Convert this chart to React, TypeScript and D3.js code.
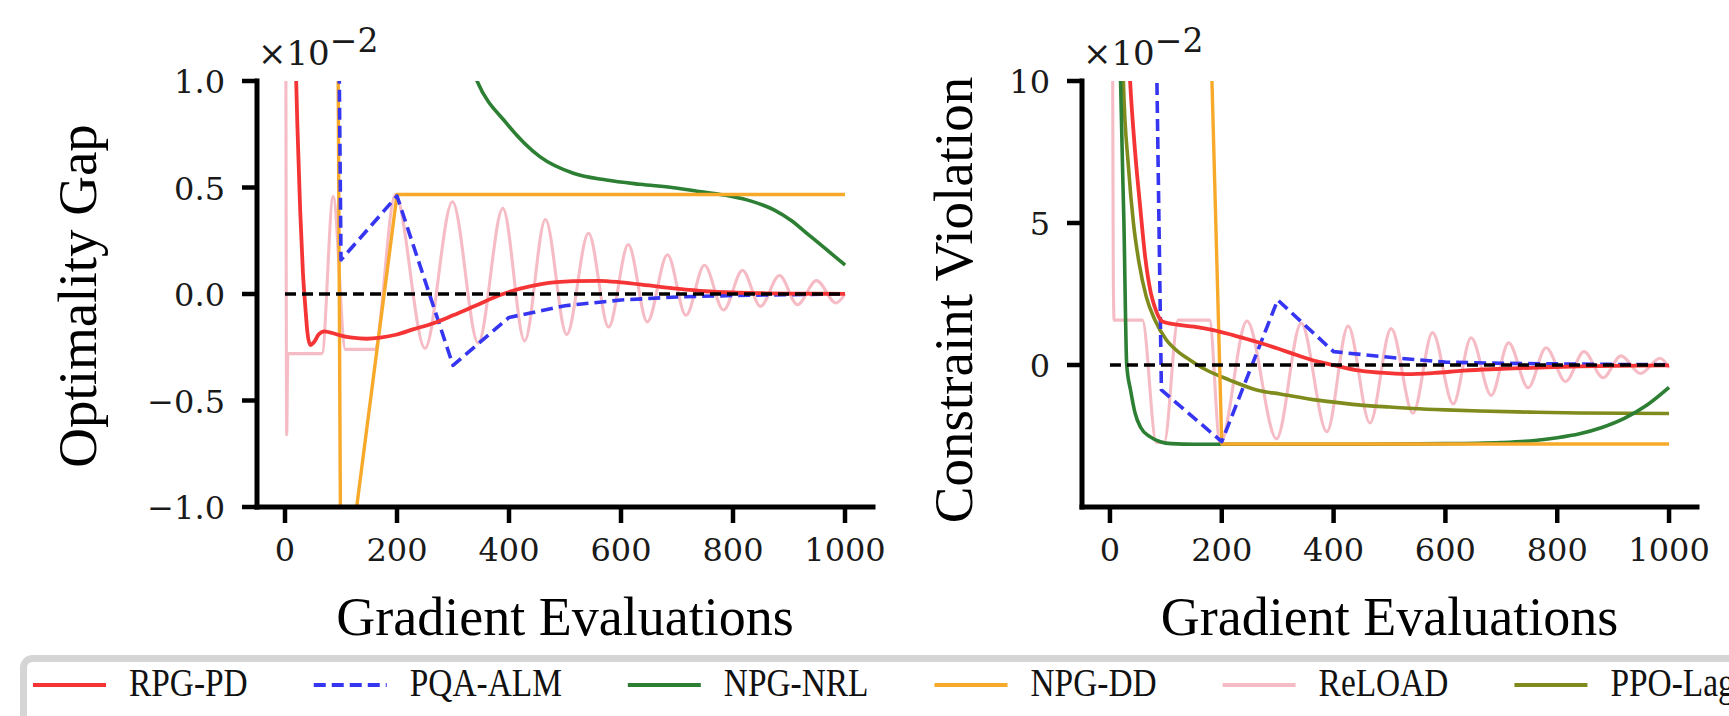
import React, { useEffect, useRef } from 'react';
import * as d3 from 'd3';

type Pt = [number, number];

// ---------- tick labels ----------
const xTicks = [0, 200, 400, 600, 800, 1000];
const xTickLabels = ['0', '200', '400', '600', '800', '1000'];
const gapTicks = [-1.0, -0.5, 0.0, 0.5, 1.0];
const gapTickLabels = ['\u22121.0', '\u22120.5', '0.0', '0.5', '1.0'];
const violTicks = [0, 5, 10];
const violTickLabels = ['0', '5', '10'];

const seriesNames = ['RPG-PD', 'PQA-ALM', 'NPG-NRL', 'NPG-DD', 'ReLOAD', 'PPO-Lag'];

// ---------- Optimality gap (x 10^-2) ----------
const gapRPGPD: Pt[] = [
  [0, 3], [10, 2], [18, 1.2], [22, 0.8], [27, 0.4], [32, 0.1], [36, -0.05], [40, -0.18], [45, -0.24],
  [52, -0.225], [60, -0.19], [70, -0.175], [80, -0.18], [100, -0.195], [120, -0.205], [146, -0.21],
  [170, -0.205], [200, -0.19], [230, -0.165], [265, -0.137], [300, -0.1], [340, -0.055], [384, -0.005],
  [420, 0.025], [460, 0.048], [515, 0.06], [560, 0.062], [600, 0.055], [650, 0.04], [700, 0.025],
  [750, 0.013], [800, 0.007], [850, 0.004], [900, 0.002], [1000, 0.001],
];
const gapPQAALM: Pt[] = [
  [0, 28], [100, 0.16], [200, 0.46], [300, -0.335], [400, -0.11], [500, -0.055], [600, -0.028],
  [700, -0.014], [800, -0.007], [900, -0.003], [1000, 0],
];
const gapNPGNRL: Pt[] = [
  [200, 3], [260, 1.8], [300, 1.35], [343, 1.0], [396, 0.8], [455, 0.645], [515, 0.567], [574, 0.535],
  [634, 0.515], [694, 0.499], [744, 0.48], [794, 0.46], [834, 0.435], [874, 0.394], [904, 0.345],
  [934, 0.28], [964, 0.215], [1000, 0.136],
];
const gapNPGDD: Pt[] = [[0, 50], [100, -1.57], [200, 0.467], [1000, 0.467]];
const gapReLOAD: Pt[] = [
  [0, 4], [1.5, 1.2], [3, -0.66], [5, -0.28], [66, -0.28], [86, 0.457], [108, -0.26], [160, -0.26],
  [197, 0.467], [250, -0.255], [299, 0.433], [345, -0.23], [389, 0.402], [428, -0.22], [465, 0.35],
  [503, -0.19], [542, 0.285], [578, -0.155], [613, 0.232], [647, -0.131], [683, 0.184], [716, -0.1],
  [749, 0.135], [783, -0.075], [817, 0.111], [849, -0.058], [883, 0.087], [915, -0.05], [949, 0.063],
  [984, -0.042], [1000, 0.0],
];

// ---------- Constraint violation (x 10^-2) ----------
const violRPGPD: Pt[] = [
  [0, 40], [20, 18], [36, 10], [45, 7.5], [54, 5.58], [63, 3.8], [73, 2.55], [80, 2.05], [87, 1.7],
  [95, 1.52], [120, 1.42], [150, 1.35], [185, 1.23], [220, 1.05], [262, 0.82], [300, 0.58], [334, 0.35],
  [370, 0.13], [399, 0.0], [440, -0.18], [483, -0.27], [530, -0.32], [580, -0.28], [632, -0.2],
  [680, -0.15], [721, -0.12], [780, -0.08], [840, -0.05], [900, -0.03], [1000, -0.01],
];
const violPQAALM: Pt[] = [
  [0, 124], [92, -0.88], [200, -2.7], [300, 2.29], [400, 0.47], [500, 0.27], [600, 0.1], [700, 0.06],
  [800, 0.04], [900, 0.02], [1000, 0.01],
];
const violNPGNRL: Pt[] = [
  [0, 60], [10, 25], [19, 10], [25, 5], [30, 0], [37, -0.9], [45, -1.7], [55, -2.2], [72, -2.53],
  [90, -2.7], [110, -2.77], [150, -2.79], [400, -2.79], [600, -2.77], [700, -2.73], [760, -2.66],
  [800, -2.56], [840, -2.42], [880, -2.2], [920, -1.88], [960, -1.42], [1000, -0.79],
];
const violNPGDD: Pt[] = [[0, 150], [100, 70], [200, -2.78], [1000, -2.78]];
const violReLOAD: Pt[] = [
  [0, 40], [6, 3], [7.5, 1.58], [58, 1.58], [83, -2.73], [97, -2.73], [122, 1.58], [178, 1.58],
  [197, -2.78], [245, 1.55], [298, -2.6], [342, 1.47], [388, -2.35], [426, 1.37], [465, -2.04],
  [503, 1.28], [542, -1.7], [577, 1.14], [614, -1.37], [646, 0.96], [682, -1.07], [713, 0.78],
  [748, -0.8], [780, 0.61], [815, -0.58], [848, 0.47], [882, -0.45], [914, 0.32], [949, -0.3],
  [984, 0.24], [1000, -0.1],
];
const violPPOLag: Pt[] = [
  [0, 80], [12, 25], [24, 10], [33, 7], [42, 5], [52, 3.6], [65, 2.4], [80, 1.6], [101, 0.88],
  [120, 0.5], [143, 0.18], [170, -0.15], [214, -0.53], [266, -0.9], [304, -1.02], [363, -1.22],
  [423, -1.36], [460, -1.43], [500, -1.48], [542, -1.53], [600, -1.58], [661, -1.62], [750, -1.66],
  [840, -1.69], [1000, -1.71],
];

const zeroLine: Pt[] = [[0, 0], [1000, 0]];

// ---------- styles ----------
const STYLE: Record<string, { color: string; width: number; dash?: string; smooth: boolean }> = {
  'RPG-PD': { color: '#f53535', width: 3.8, smooth: true },
  'PQA-ALM': { color: '#3636f2', width: 3.6, dash: '12,6', smooth: false },
  'NPG-NRL': { color: '#2c7f33', width: 3.6, smooth: true },
  'NPG-DD': { color: '#f7a92a', width: 3.4, smooth: false },
  'ReLOAD': { color: '#f6bcc6', width: 3.1, smooth: true },
  'PPO-Lag': { color: '#7f8b1c', width: 3.6, smooth: true },
};
const DRAW_ORDER = ['ReLOAD', 'PPO-Lag', 'NPG-NRL', 'NPG-DD', 'PQA-ALM', 'RPG-PD'];

const W = 1729;
const H = 716;
const TOP = 81;
const BOTTOM = 507;
const X_DOMAIN = [-50, 1050];
const TICK_FONT = '"DejaVu Serif", serif';
const LABEL_FONT = '"Liberation Serif", "Times New Roman", serif';

interface Panel {
  id: string;
  left: number;
  right: number;
  yDomain: [number, number];
  yTicks: number[];
  yTickLabels: string[];
  ylabel: string;
  ylabelX: number;
  ylabelY: number;
  series: Record<string, Pt[]>;
}

function drawPanel(svg: d3.Selection<SVGSVGElement, unknown, null, undefined>, p: Panel) {
  const x = d3.scaleLinear().domain(X_DOMAIN).range([p.left, p.right]);
  const y = d3.scaleLinear().domain(p.yDomain).range([BOTTOM, TOP]);
  const clipId = 'clip-' + p.id;
  svg.append('defs').append('clipPath').attr('id', clipId)
    .append('rect').attr('x', p.left).attr('y', TOP).attr('width', p.right - p.left).attr('height', BOTTOM - TOP);

  const g = svg.append('g');
  const plot = g.append('g').attr('clip-path', `url(#${clipId})`);
  for (const name of DRAW_ORDER) {
    const data = p.series[name];
    if (!data) continue;
    const st = STYLE[name];
    const line = d3.line<Pt>().x(d => x(d[0])).y(d => y(d[1]))
      .curve(st.smooth ? d3.curveMonotoneX : d3.curveLinear);
    plot.append('path').attr('d', line(data) as string)
      .attr('fill', 'none').attr('stroke', st.color).attr('stroke-width', st.width)
      .attr('stroke-dasharray', st.dash ?? null).attr('stroke-linejoin', 'round');
  }
  const zl = d3.line<Pt>().x(d => x(d[0])).y(d => y(d[1]));
  plot.append('path').attr('d', zl(zeroLine) as string).attr('fill', 'none')
    .attr('stroke', '#000').attr('stroke-width', 3.4).attr('stroke-dasharray', '11,6');

  // spines
  g.append('line').attr('x1', p.left).attr('x2', p.left).attr('y1', TOP).attr('y2', BOTTOM)
    .attr('stroke', '#000').attr('stroke-width', 5).attr('stroke-linecap', 'square');
  g.append('line').attr('x1', p.left).attr('x2', p.right).attr('y1', BOTTOM).attr('y2', BOTTOM)
    .attr('stroke', '#000').attr('stroke-width', 5).attr('stroke-linecap', 'square');

  // x ticks
  xTicks.forEach((v, i) => {
    g.append('line').attr('x1', x(v)).attr('x2', x(v)).attr('y1', BOTTOM).attr('y2', BOTTOM + 16)
      .attr('stroke', '#000').attr('stroke-width', 4.5);
    g.append('text').attr('x', x(v)).attr('y', 561).attr('text-anchor', 'middle')
      .attr('font-family', TICK_FONT).attr('font-size', 32).attr('fill', '#1a1a1a').text(xTickLabels[i]);
  });
  // y ticks
  p.yTicks.forEach((v, i) => {
    g.append('line').attr('x1', p.left - 15).attr('x2', p.left).attr('y1', y(v)).attr('y2', y(v))
      .attr('stroke', '#000').attr('stroke-width', 4.5);
    g.append('text').attr('x', p.left - 32).attr('y', y(v) + 12).attr('text-anchor', 'end')
      .attr('font-family', TICK_FONT).attr('font-size', 32).attr('fill', '#1a1a1a').text(p.yTickLabels[i]);
  });

  // offset text
  const off = g.append('text').attr('x', p.left + 1).attr('y', 65)
    .attr('font-family', TICK_FONT).attr('font-size', 34).attr('fill', '#1a1a1a');
  off.append('tspan').text('\u00d710');
  off.append('tspan').attr('dy', -13).attr('font-size', 33).text('\u22122');

  // axis labels
  g.append('text').attr('transform', `translate(${p.ylabelX},${p.ylabelY}) rotate(-90)`)
    .attr('text-anchor', 'middle').attr('font-family', LABEL_FONT).attr('font-size', 55)
    .attr('fill', '#000').text(p.ylabel);
  g.append('text').attr('x', (p.left + p.right) / 2).attr('y', 635).attr('text-anchor', 'middle')
    .attr('font-family', LABEL_FONT).attr('font-size', 54).attr('fill', '#000').text('Gradient Evaluations');
}

function drawLegend(svg: d3.Selection<SVGSVGElement, unknown, null, undefined>) {
  const lg = svg.append('g');
  lg.append('rect').attr('x', 23.5).attr('y', 658.5).attr('width', 1900).attr('height', 200)
    .attr('rx', 9).attr('fill', '#fff').attr('stroke', '#d5d5d5').attr('stroke-width', 7);
  let cx = 33;
  const sx = 0.835;
  seriesNames.forEach(name => {
    const st = STYLE[name];
    lg.append('line').attr('x1', cx).attr('x2', cx + 73).attr('y1', 685).attr('y2', 685)
      .attr('stroke', st.color).attr('stroke-width', 4.2).attr('stroke-dasharray', st.dash ?? null);
    const t = lg.append('text').attr('transform', `translate(${cx + 96},696) scale(${sx},1)`)
      .attr('font-family', LABEL_FONT).attr('font-size', 40).attr('fill', '#111').text(name);
    const w = (t.node() as SVGTextElement).getComputedTextLength() * sx;
    cx = cx + 96 + w + 66;
  });
}

export default function App() {
  const ref = useRef<SVGSVGElement>(null);
  useEffect(() => {
    if (!ref.current) return;
    const svg = d3.select(ref.current);
    svg.selectAll('*').remove();
    drawPanel(svg, {
      id: 'gap', left: 257, right: 873, yDomain: [-1, 1], yTicks: gapTicks, yTickLabels: gapTickLabels,
      ylabel: 'Optimality Gap', ylabelX: 96, ylabelY: 296,
      series: {
        'RPG-PD': gapRPGPD, 'PQA-ALM': gapPQAALM, 'NPG-NRL': gapNPGNRL, 'NPG-DD': gapNPGDD, 'ReLOAD': gapReLOAD,
      },
    });
    drawPanel(svg, {
      id: 'viol', left: 1082, right: 1697, yDomain: [-5, 10], yTicks: violTicks, yTickLabels: violTickLabels,
      ylabel: 'Constraint Violation', ylabelX: 972, ylabelY: 300,
      series: {
        'RPG-PD': violRPGPD, 'PQA-ALM': violPQAALM, 'NPG-NRL': violNPGNRL, 'NPG-DD': violNPGDD,
        'ReLOAD': violReLOAD, 'PPO-Lag': violPPOLag,
      },
    });
    drawLegend(svg);
  }, []);
  return (
    <svg ref={ref} width={W} height={H}
      style={{ position: 'absolute', left: 0, top: 0, background: '#fff', display: 'block' }} />
  );
}
